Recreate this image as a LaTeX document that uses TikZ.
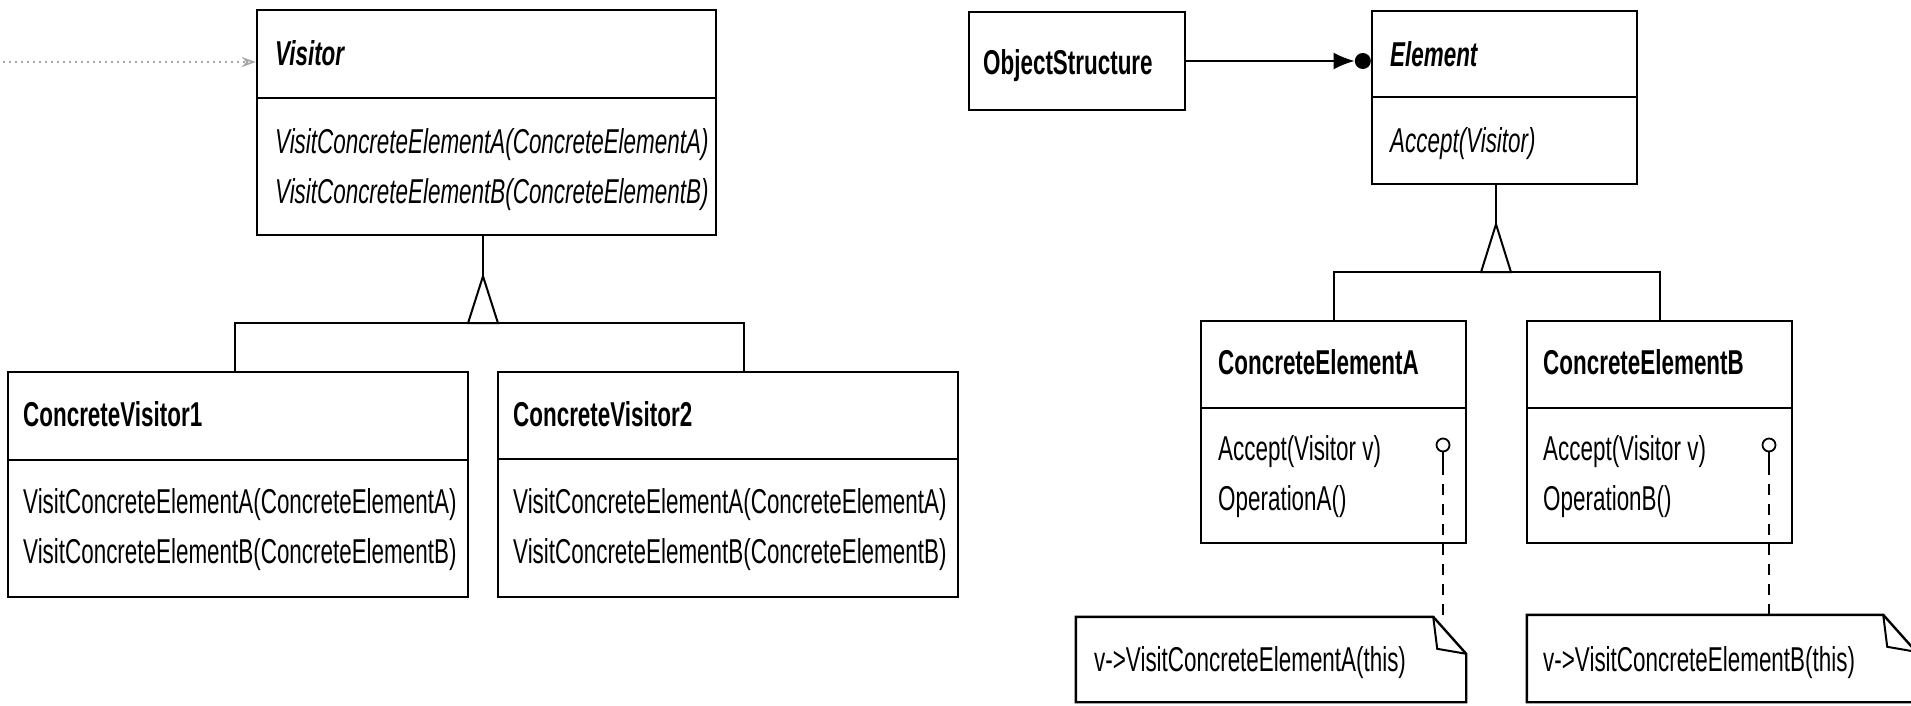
\documentclass[tikz,border=0pt]{standalone}
\usepackage{fontspec}
\newfontfamily\umlfont{Liberation Sans}[FakeStretch=0.65]
\usetikzlibrary{arrows.meta,fit}
\begin{document}
\begin{tikzpicture}[x=1pt,y=-1pt,
  box/.style={draw, line width=2.4pt, inner sep=0pt},
  frame/.style={inner sep=0pt},
  divline/.style={line width=2.4pt},
  conn/.style={line width=2pt},
  lbl/.style={anchor=base west, inner sep=0pt, font=\umlfont\fontsize{34.5}{50}\selectfont},
  title/.style={lbl, font=\umlfont\fontsize{34.5}{50}\selectfont\bfseries},
  atitle/.style={lbl, font=\umlfont\fontsize{34.5}{50}\selectfont\bfseries\itshape},
  amethod/.style={lbl, font=\umlfont\fontsize{34.5}{50}\selectfont\itshape},
  lolly/.style={circle, draw, line width=1.8pt, minimum size=13pt, inner sep=0pt},
  dashline/.style={line width=1.7pt, dash pattern=on 11pt off 9pt},
  clientline/.style={line width=1.6pt, black!35, dash pattern=on 2pt off 4pt,
    -{Stealth[length=14pt,width=10pt,open]}},
  fold/.style={line width=2pt, line join=miter}
]
\clip (0,0) rectangle (1911,705);
\fill[white] (0,0) rectangle (1911,705);

% ---------------- Visitor hierarchy ----------------
\node[box, fit={(257,10) (716,235)}] (visitor) {};
\draw[divline] (visitor.west |- 0,98) -- (visitor.east |- 0,98);
\node[atitle] (tvisitor) at (275,65) {Visitor};
\node[amethod] (tvisA) at (275,153) {VisitConcreteElementA(ConcreteElementA)};
\node[amethod] (tvisB) at (275,203) {VisitConcreteElementB(ConcreteElementB)};

\coordinate (client) at (3,62);
\draw[clientline] (client) -- (client -| visitor.west);

\node[box, fit={(8,372) (468,597)}] (cv1) {};
\draw[divline] (cv1.west |- 0,460) -- (cv1.east |- 0,460);
\node[title] (tcv1) at (23,426) {ConcreteVisitor1};
\node[lbl] (tcv1A) at (23,513) {VisitConcreteElementA(ConcreteElementA)};
\node[lbl] (tcv1B) at (23,563) {VisitConcreteElementB(ConcreteElementB)};

\node[box, fit={(498,372) (958,597)}] (cv2) {};
\draw[divline] (cv2.west |- 0,459) -- (cv2.east |- 0,459);
\node[title] (tcv2) at (513,426) {ConcreteVisitor2};
\node[lbl] (tcv2A) at (513,513) {VisitConcreteElementA(ConcreteElementA)};
\node[lbl] (tcv2B) at (513,563) {VisitConcreteElementB(ConcreteElementB)};

% inheritance: stem, hollow triangle, bar and drops
\draw[conn] ([xshift=-3.5pt]visitor.south) -- ++(0,40) coordinate (vapex);
\draw[conn, line join=miter] (vapex) -- ++(-15,47) -- ++(30,0) -- cycle;
\path (vapex) ++(0,47) coordinate (vbase);
\draw[conn] ([xshift=-3pt]cv1.north) |- (vbase) -| ([xshift=16pt]cv2.north);

% ---------------- Element hierarchy ----------------
\node[box, fit={(969,12) (1185,110)}] (objstruct) {};
\node[title] (tobj) at (983,74) {ObjectStructure};

\node[box, fit={(1372,11) (1637,184)}] (element) {};
\draw[divline] (element.west |- 0,97) -- (element.east |- 0,97);
\node[atitle] (telem) at (1390,66) {Element};
\node[amethod] (tacc) at (1390,152) {Accept(Visitor)};

\node[circle, fill, minimum size=16pt, inner sep=0pt] (many) at ([xshift=-8pt]element.west |- objstruct.east) {};
\draw[conn, -{Latex[length=21pt,width=17pt]}] (objstruct.east) -- (many.west);

\draw[conn] ([xshift=-8.5pt]element.south) -- ++(0,39) coordinate (eapex);
\draw[conn, line join=miter] (eapex) -- ++(-15,48) -- ++(30,0) -- cycle;
\path (eapex) ++(0,48) coordinate (ebase);

\node[box, fit={(1201,321) (1466,543)}] (cea) {};
\draw[divline] (cea.west |- 0,408) -- (cea.east |- 0,408);
\node[title] (tcea) at (1218,374) {ConcreteElementA};
\node[lbl] (tceaAcc) at (1218,460) {Accept(Visitor v)};
\node[lbl] (tceaOp) at (1218,510) {OperationA()};

\node[box, fit={(1527,321) (1792,543)}] (ceb) {};
\draw[divline] (ceb.west |- 0,408) -- (ceb.east |- 0,408);
\node[title] (tceb) at (1543,374) {ConcreteElementB};
\node[lbl] (tcebAcc) at (1543,460) {Accept(Visitor v)};
\node[lbl] (tcebOp) at (1543,510) {OperationB()};

\draw[conn] (cea.north) |- (ebase) -| (ceb.north);

% ---------------- implementation notes ----------------
\node[frame, fit={(1076,617) (1466,702)}] (notea) {};
\draw[box, line join=miter] ([xshift=-33pt]notea.north east) -- (notea.north west)
  -- (notea.south west) -- (notea.south east) -- ([yshift=-37pt]notea.north east) -- cycle;
\draw[fold] ([xshift=-33pt]notea.north east) -- ([xshift=-29pt,yshift=-32pt]notea.north east)
  -- ([yshift=-37pt]notea.north east);
\node[lbl] (tnotea) at (1094,671) {v->VisitConcreteElementA(this)};

\node[frame, fit={(1527,615) (1916,702)}] (noteb) {};
\draw[box, line join=miter] ([xshift=-33pt]noteb.north east) -- (noteb.north west)
  -- (noteb.south west) -- (noteb.south east) -- ([yshift=-37pt]noteb.north east) -- cycle;
\draw[fold] ([xshift=-33pt]noteb.north east) -- ([xshift=-29pt,yshift=-32pt]noteb.north east)
  -- ([yshift=-37pt]noteb.north east);
\node[lbl] (tnoteb) at (1543,671) {v->VisitConcreteElementB(this)};

% lollipops on Accept with dashed links to the notes
\node[lolly] (lpa) at (1443,445) {};
\draw[conn, line width=1.7pt] (lpa.south) -- ++(0,12) coordinate (lpaend);
\draw[dashline] (lpaend) -- (lpaend |- notea.north);

\node[lolly] (lpb) at (1769,445) {};
\draw[conn, line width=1.7pt] (lpb.south) -- ++(0,12) coordinate (lpbend);
\draw[dashline] (lpbend) -- (lpbend |- noteb.north);
\end{tikzpicture}
\end{document}
